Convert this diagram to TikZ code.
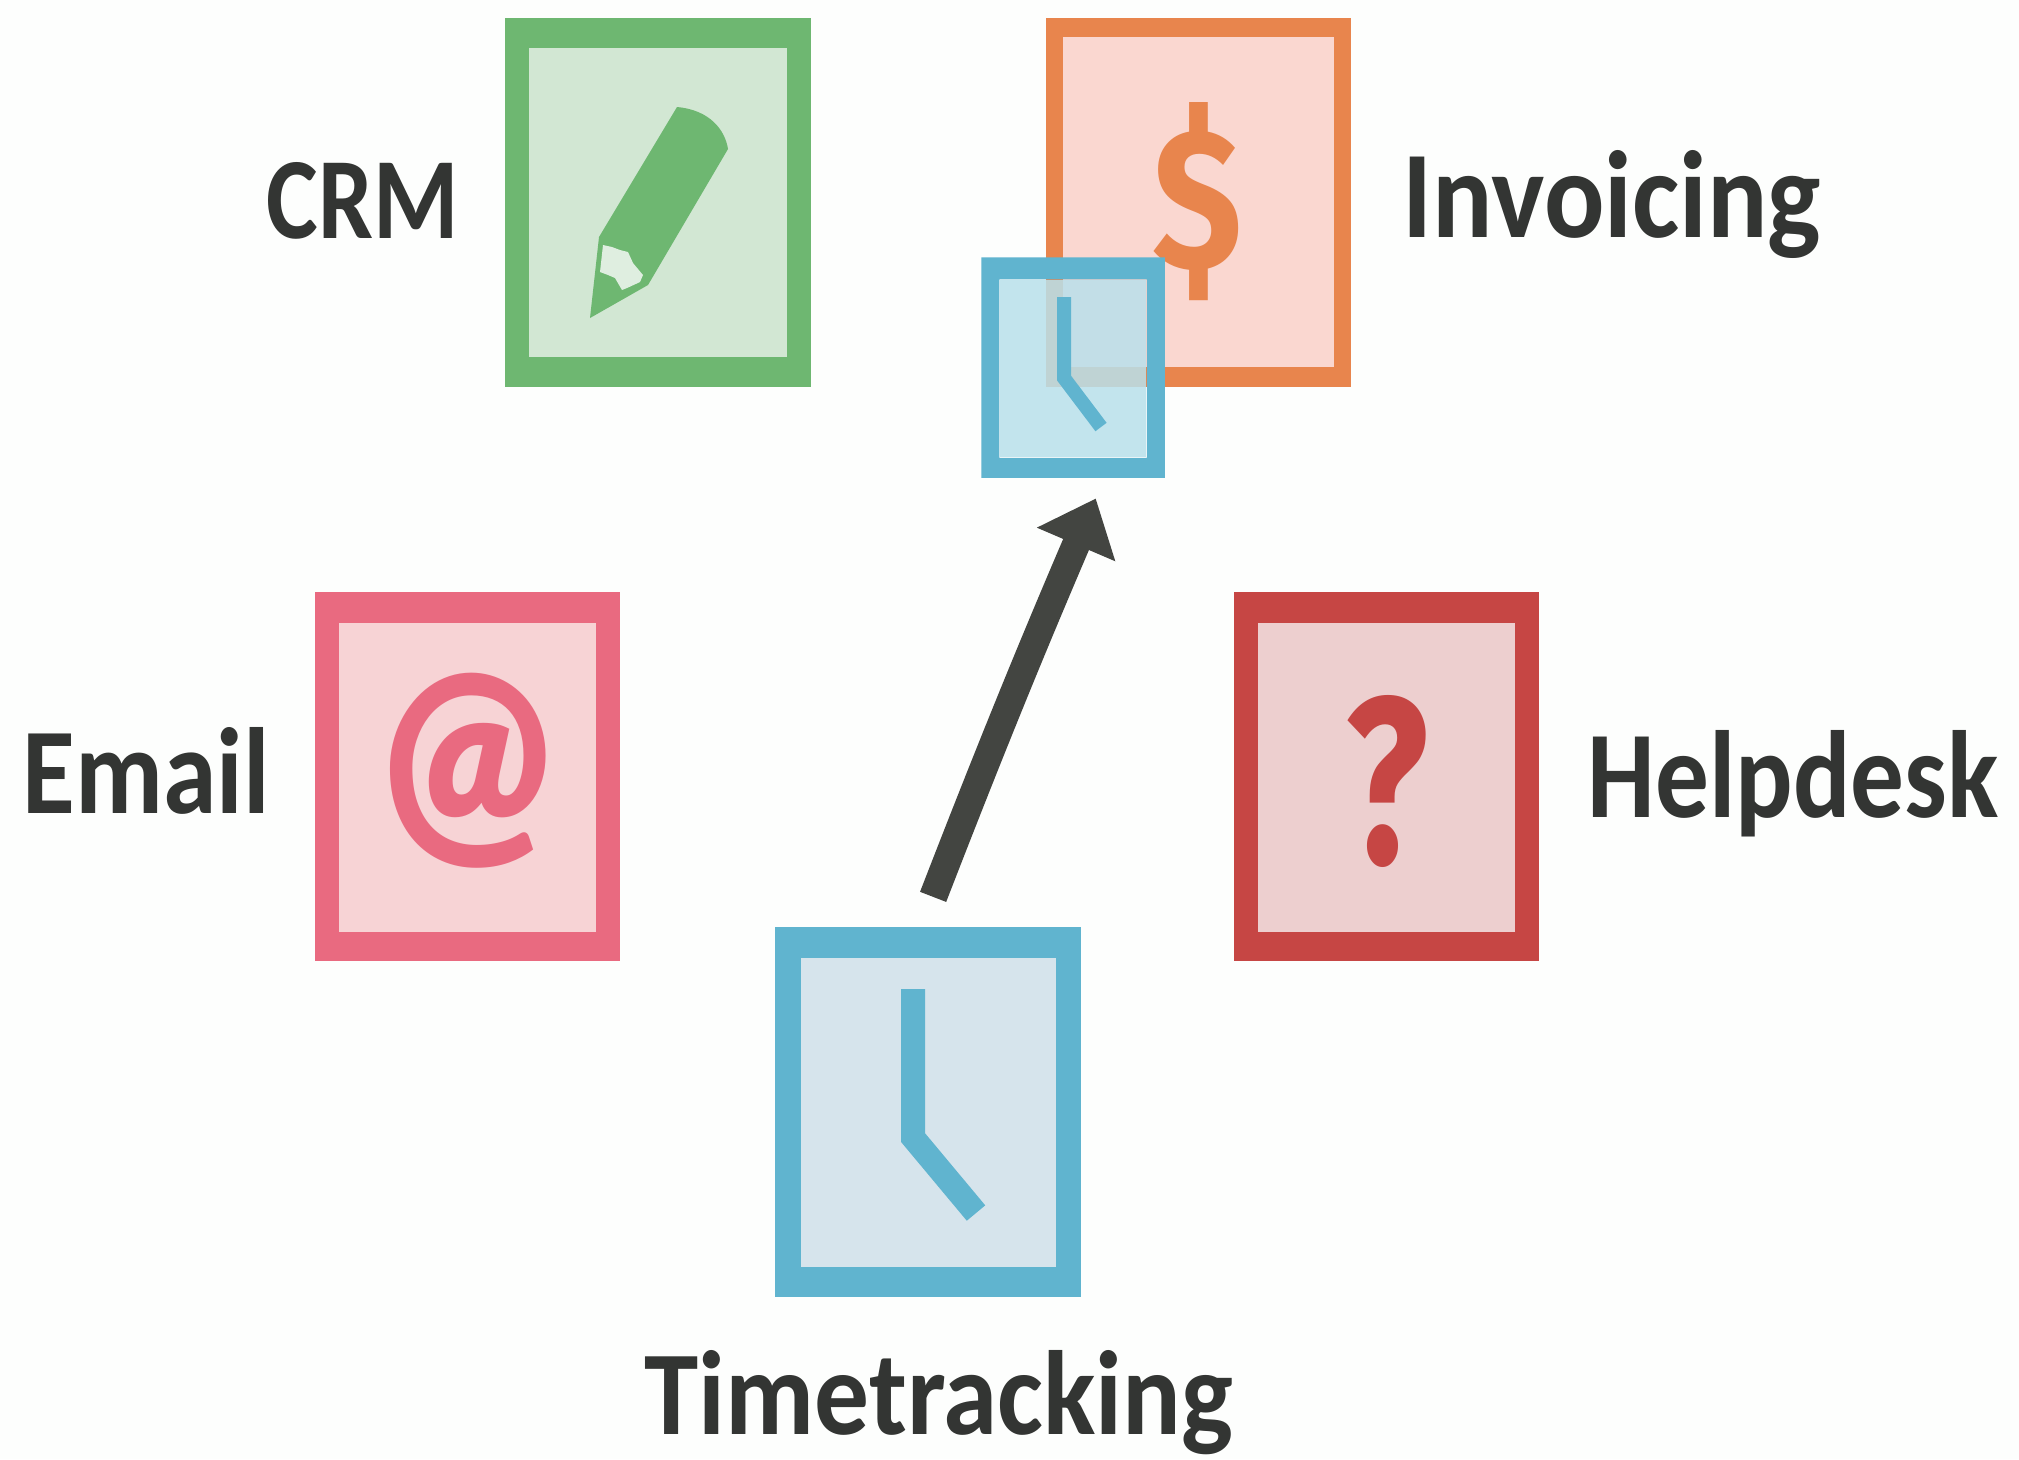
\documentclass[tikz,border=0pt]{standalone}
\usepackage{graphicx}
\usepackage{fontspec}
\newfontfamily\labelfont[BoldFont={Carlito Bold}]{Carlito}
\newfontfamily\iconfont[BoldFont={Fira Sans Bold}]{Fira Sans}
\newfontfamily\atfont{Lato Black}
\usetikzlibrary{arrows.meta}
\definecolor{paper}{HTML}{FDFEFD}
\definecolor{ink}{HTML}{333533}
\definecolor{arrowink}{HTML}{434541}
\definecolor{crmedge}{HTML}{6EB771}
\definecolor{crmfill}{HTML}{D2E7D3}
\definecolor{invedge}{HTML}{E8854D}
\definecolor{invfill}{HTML}{FAD7D0}
\definecolor{timeedge}{HTML}{60B4CF}
\definecolor{timefill}{HTML}{D6E4EC}
\definecolor{smallfill}{HTML}{B9E0EB}
\definecolor{mailedge}{HTML}{E96A80}
\definecolor{mailfill}{HTML}{F7D3D5}
\definecolor{helpedge}{HTML}{C64644}
\definecolor{helpfill}{HTML}{EDCFCF}
\newcommand{\tagfit}[3]{\resizebox{#1cm}{#2cm}{#3}}
\tikzset{
  outerbox/.style={inner sep=0pt, minimum width=3.05cm, minimum height=3.69cm},
  innerbox/.style={inner sep=0pt},
  icon/.style={inner sep=0pt, font=\iconfont\bfseries},
  tag/.style={inner sep=0pt, anchor=base west, text=ink, font=\labelfont\bfseries},
}
\begin{document}
\begin{tikzpicture}[x=0.01cm, y=-0.01cm]
\useasboundingbox (0,0) rectangle (2019,1459);
\fill[paper] (0,0) rectangle (2019,1459);
% crm
\node[outerbox, fill=crmedge] (crm) at (658,202.5) {};
\node[innerbox, fill=crmfill, minimum width=2.57cm, minimum height=3.09cm] (crmin) at (658,202.5) {};
\fill[crmedge] (677,107) .. controls (710,110) and (725,130) .. (728,149) -- (648,285) -- (590,318) -- (599,237) -- cycle;
\fill[crmfill!70!white] (603,245) -- (612,247) -- (620,250) -- (628,252) -- (633,263) -- (643,275) -- (640,282) -- (627,288) -- (622,290) -- (615,278) -- (608,275) -- (600,272) -- cycle;
\node[tag] (crmlabel) at (266,238) {\tagfit{1.92}{0.76}{CRM}};
% invoicing
\node[outerbox, fill=invedge] (inv) at (1198.5,202.5) {};
\node[innerbox, fill=invfill, minimum width=2.71cm, minimum height=3.30cm] (invin) at (1198.5,202) {};
\node[icon, text=invedge] (dollar) at (1197.5,202) {\resizebox*{0.9cm}{1.98cm}{\$}};
\node[tag] (invlabel) at (1402,237) {\tagfit{4.18}{0.87}{Invoicing}};
% email
\node[outerbox, fill=mailedge] (mail) at (467.5,776.5) {};
\node[innerbox, fill=mailfill, minimum width=2.57cm, minimum height=3.09cm] (mailin) at (467.5,777.5) {};
\node[inner sep=0pt, font=\atfont, text=mailedge] (atsign) at (467.5,770.5) {\resizebox*{1.7cm}{1.95cm}{@}};
\node[tag] (maillabel) at (22,813) {\tagfit{2.47}{0.86}{Email}};
% helpdesk
\node[outerbox, fill=helpedge] (help) at (1386.5,776.5) {};
\node[innerbox, fill=helpfill, minimum width=2.57cm, minimum height=3.09cm] (helpin) at (1386.5,777.5) {};
\node[icon, text=helpedge] (question) at (1387,781) {\resizebox*{0.83cm}{1.72cm}{?}};
\node[tag] (helplabel) at (1587,817) {\tagfit{4.11}{0.87}{Helpdesk}};
% timetracking
\node[outerbox, fill=timeedge, minimum width=3.06cm] (time) at (928,1112) {};
\node[innerbox, fill=timefill, minimum width=2.55cm, minimum height=3.09cm] (timein) at (928.5,1112.5) {};
\draw[timeedge, line width=0.24cm, line join=miter] (913,989) -- (913,1137.5) -- (976,1213);
\node[tag] (timelabel) at (644,1434) {\tagfit{5.88}{0.84}{Timetracking}};
% the small one lies on top of invoicing
\node[outerbox, minimum width=1.82cm, minimum height=2.19cm] (small) at (1073,367.5) {};
\node[innerbox, fill=smallfill, fill opacity=0.86, minimum width=1.46cm, minimum height=1.77cm] (smallin) at (1073,368.5) {};
\fill[timeedge, even odd rule] (small.north west) rectangle (small.south east) (smallin.north west) rectangle (smallin.south east);
\draw[timeedge, line width=0.14cm, line join=miter] (1064,297) -- (1064,378) -- (1101,427);
% arrow
\draw[arrowink, line width=0.28cm, -{Stealth[length=0.5cm, width=0.82cm, inset=0pt]}, shorten <=0.32cm, shorten >=0.225cm] (time.92.5) to[bend left=1] (small.286);
\end{tikzpicture}
\end{document}
